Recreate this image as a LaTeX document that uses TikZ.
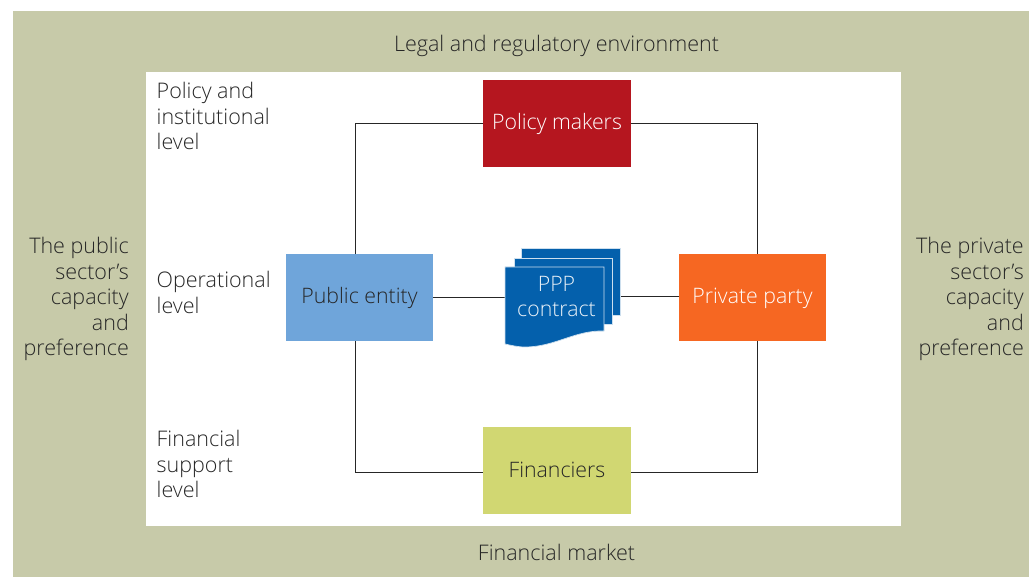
\documentclass[tikz,border=0pt]{standalone}
\usepackage{fontspec}
\setmainfont{Open Sans Light}[BoldFont={Open Sans}]
\definecolor{sage}{HTML}{C7CAA9}
\definecolor{policyred}{HTML}{B5161F}
\definecolor{pubblue}{HTML}{6FA5DA}
\definecolor{privorange}{HTML}{F66722}
\definecolor{finyellow}{HTML}{D1D772}
\definecolor{contractblue}{HTML}{0460AC}
\definecolor{inktext}{HTML}{262626}
\tikzset{
 x=1pt,y=-1pt,
 actor/.style={minimum width=147pt,minimum height=87pt,inner sep=0pt,text height=16pt,text depth=3pt,font=\fontsize{21.3}{25.5}\selectfont},
 lab/.style={inner sep=0pt,text=inktext,font=\fontsize{21.5}{25.5}\selectfont},
 link/.style={draw=inktext,line width=0.9pt},
 sheet/.style={fill=contractblue,draw=white!80!contractblue,line width=0.7pt}
}
\begin{document}
\begin{tikzpicture}
\useasboundingbox (0,0) rectangle (1029,577);
\fill[white] (0,0) rectangle (1029,577);
\fill[sage] (13,11) rectangle (1029,577);
\fill[white] (146,72) rectangle (901,526);
\node[actor,minimum width=148pt,fill=policyred,text=white] (policy) at (557,123.5) {Policy makers};
\node[actor,fill=pubblue,text=inktext] (public) at (359.5,297.5) {Public entity};
\node[actor,fill=privorange,text=white] (private) at (752.5,297.5) {Private party};
\node[actor,minimum width=148pt,fill=finyellow,text=inktext] (fin) at (557,470.5) {Financiers};
\coordinate (contractL) at (505,297.5);
\coordinate (contractR) at (620,296);
\draw[link] (policy.west) -| ([xshift=-4.5pt]public.north);
\draw[link] (policy.east) -| ([xshift=4.5pt]private.north);
\draw[link] ([yshift=-1.5pt]fin.west) -| ([xshift=-4.5pt]public.south);
\draw[link] ([yshift=-1.5pt]fin.east) -| ([xshift=4.5pt]private.south);
\draw[link] (public.east) -- (contractL);
\draw[link] (contractR) -- (private.west |- contractR);
\draw[sheet] (521.5,248) rectangle (620,315);
\draw[sheet] (514,258) rectangle (612.5,324);
\draw[sheet] (505,267) -- (604,267) -- (604,331) .. controls (575,330) and (555,347) .. (525,347) .. controls (517,347) and (510,345) .. (505,344) -- cycle;
\node[inner sep=0pt,align=center,text=white!92!contractblue,font=\fontsize{21.3}{25}\selectfont] (ppp) at (556.5,296.5) {PPP\\contract};
\node[lab] (legal) at (556.5,46) {Legal and regulatory environment};
\node[lab] (market) at (556.5,552.5) {Financial market};
\node[lab,anchor=north west,align=left] (l1) at (156.5,82) {Policy and\\institutional\\level};
\node[lab,anchor=north west,align=left] (l2) at (156.5,271) {Operational\\level};
\node[lab,anchor=north west,align=left] (l3) at (156.5,430) {Financial\\support\\level};
\node[lab,anchor=north east,align=right] (left) at (129,237) {The public\\sector’s\\capacity\\and\\preference};
\node[lab,anchor=north east,align=right] (right) at (1024,237) {The private\\sector’s\\capacity\\and\\preference};
\end{tikzpicture}
\end{document}
